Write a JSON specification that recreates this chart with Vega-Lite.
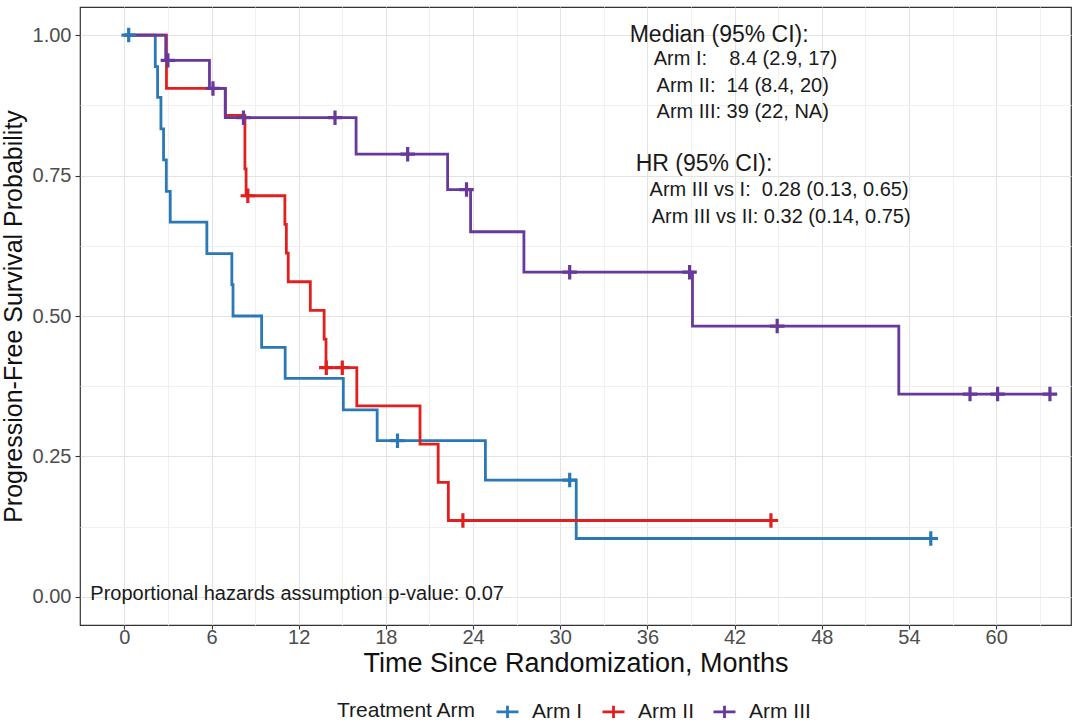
{
  "$schema": "https://vega.github.io/schema/vega-lite/v6.json",
  "width": 991,
  "height": 618,
  "autosize": {"type": "none"},
  "padding": {"left": 80, "top": 7, "right": 9, "bottom": 99},
  "background": "white",
  "config": {
    "font": "Liberation Sans",
    "view": {"stroke": "#333333", "strokeWidth": 1.2}
  },
  "datasets": {
    "curves": [
      {"arm": "Arm I", "time": 0, "surv": 1},
      {"arm": "Arm I", "time": 2.13, "surv": 0.944},
      {"arm": "Arm I", "time": 2.29, "surv": 0.889},
      {"arm": "Arm I", "time": 2.52, "surv": 0.833},
      {"arm": "Arm I", "time": 2.7, "surv": 0.778},
      {"arm": "Arm I", "time": 2.89, "surv": 0.722},
      {"arm": "Arm I", "time": 3.16, "surv": 0.667},
      {"arm": "Arm I", "time": 5.68, "surv": 0.611},
      {"arm": "Arm I", "time": 7.4, "surv": 0.556},
      {"arm": "Arm I", "time": 7.48, "surv": 0.5},
      {"arm": "Arm I", "time": 9.45, "surv": 0.444},
      {"arm": "Arm I", "time": 11.07, "surv": 0.389},
      {"arm": "Arm I", "time": 15.07, "surv": 0.333},
      {"arm": "Arm I", "time": 17.4, "surv": 0.278},
      {"arm": "Arm I", "time": 24.85, "surv": 0.208},
      {"arm": "Arm I", "time": 31.1, "surv": 0.104},
      {"arm": "Arm I", "time": 55.5, "surv": 0.104},
      {"arm": "Arm II", "time": 0, "surv": 1},
      {"arm": "Arm II", "time": 2.9, "surv": 0.905},
      {"arm": "Arm II", "time": 6.95, "surv": 0.857},
      {"arm": "Arm II", "time": 8.3, "surv": 0.762},
      {"arm": "Arm II", "time": 8.38, "surv": 0.714},
      {"arm": "Arm II", "time": 11.05, "surv": 0.663},
      {"arm": "Arm II", "time": 11.15, "surv": 0.612},
      {"arm": "Arm II", "time": 11.28, "surv": 0.561},
      {"arm": "Arm II", "time": 12.8, "surv": 0.51},
      {"arm": "Arm II", "time": 13.75, "surv": 0.459},
      {"arm": "Arm II", "time": 13.88, "surv": 0.408},
      {"arm": "Arm II", "time": 16.0, "surv": 0.34},
      {"arm": "Arm II", "time": 20.35, "surv": 0.272},
      {"arm": "Arm II", "time": 21.6, "surv": 0.204},
      {"arm": "Arm II", "time": 22.3, "surv": 0.136},
      {"arm": "Arm II", "time": 44.5, "surv": 0.136},
      {"arm": "Arm III", "time": 0, "surv": 1},
      {"arm": "Arm III", "time": 2.85, "surv": 0.955},
      {"arm": "Arm III", "time": 5.86, "surv": 0.905},
      {"arm": "Arm III", "time": 6.95, "surv": 0.853},
      {"arm": "Arm III", "time": 15.95, "surv": 0.788},
      {"arm": "Arm III", "time": 22.25, "surv": 0.725},
      {"arm": "Arm III", "time": 23.83, "surv": 0.65},
      {"arm": "Arm III", "time": 27.5, "surv": 0.578},
      {"arm": "Arm III", "time": 39.1, "surv": 0.482},
      {"arm": "Arm III", "time": 53.3, "surv": 0.361},
      {"arm": "Arm III", "time": 63.7, "surv": 0.361}
    ],
    "censors": [
      {"arm": "Arm I", "time": 0.3, "surv": 1},
      {"arm": "Arm I", "time": 18.8, "surv": 0.278},
      {"arm": "Arm I", "time": 30.65, "surv": 0.208},
      {"arm": "Arm I", "time": 55.5, "surv": 0.104},
      {"arm": "Arm II", "time": 8.5, "surv": 0.714},
      {"arm": "Arm II", "time": 13.9, "surv": 0.408},
      {"arm": "Arm II", "time": 15.0, "surv": 0.408},
      {"arm": "Arm II", "time": 23.3, "surv": 0.136},
      {"arm": "Arm II", "time": 44.5, "surv": 0.136},
      {"arm": "Arm III", "time": 3.0, "surv": 0.955},
      {"arm": "Arm III", "time": 6.1, "surv": 0.905},
      {"arm": "Arm III", "time": 8.2, "surv": 0.853},
      {"arm": "Arm III", "time": 14.5, "surv": 0.853},
      {"arm": "Arm III", "time": 19.5, "surv": 0.788},
      {"arm": "Arm III", "time": 23.55, "surv": 0.725},
      {"arm": "Arm III", "time": 30.65, "surv": 0.578},
      {"arm": "Arm III", "time": 38.9, "surv": 0.578},
      {"arm": "Arm III", "time": 44.93, "surv": 0.482},
      {"arm": "Arm III", "time": 58.2, "surv": 0.361},
      {"arm": "Arm III", "time": 60.1, "surv": 0.361},
      {"arm": "Arm III", "time": 63.7, "surv": 0.361}
    ]
  },
  "layer": [
    {
      "data": {"name": "curves"},
      "mark": {"type": "line", "interpolate": "step-after", "strokeWidth": 2.8},
      "encoding": {
        "x": {
          "field": "time", "type": "quantitative",
          "scale": {"domain": [-3.05, 65.15], "nice": false, "zero": false},
          "axis": {
            "title": "Time Since Randomization, Months",
            "values": [0, 3, 6, 9, 12, 15, 18, 21, 24, 27, 30, 33, 36, 39, 42, 45, 48, 51, 54, 57, 60, 63],
            "labelExpr": "datum.value % 6 === 0 ? datum.label : ''",
            "grid": true,
            "gridColor": {"condition": {"test": "datum.value % 6 === 0", "value": "#e3e3e3"}, "value": "#f0f0f0"},
            "gridWidth": 1.1,
            "tickOpacity": {"condition": {"test": "datum.value % 6 === 0", "value": 1}, "value": 0},
            "domain": false,
            "tickColor": "#333333",
            "tickSize": 4,
            "tickWidth": 1.1,
            "labelFont": "Liberation Sans",
            "labelFontSize": 20,
            "labelColor": "#4d4d4d",
            "labelPadding": -2,
            "labelFlush": false,
            "titleFont": "Liberation Sans",
            "titleFontSize": 27,
            "titleFontWeight": "normal",
            "titleColor": "#111111",
            "titlePadding": 3
          }
        },
        "y": {
          "field": "surv", "type": "quantitative",
          "scale": {"domain": [-0.05, 1.05], "nice": false, "zero": false},
          "axis": {
            "title": "Progression-Free Survival Probability",
            "values": [0, 0.125, 0.25, 0.375, 0.5, 0.625, 0.75, 0.875, 1],
            "labelExpr": "round(datum.value * 8) % 2 === 0 ? format(datum.value, '.2f') : ''",
            "grid": true,
            "gridColor": {"condition": {"test": "round(datum.value * 8) % 2 === 0", "value": "#e3e3e3"}, "value": "#f0f0f0"},
            "gridWidth": 1.1,
            "tickOpacity": {"condition": {"test": "round(datum.value * 8) % 2 === 0", "value": 1}, "value": 0},
            "domain": false,
            "tickColor": "#333333",
            "tickSize": 5,
            "tickWidth": 1.1,
            "labelFont": "Liberation Sans",
            "labelFontSize": 20,
            "labelColor": "#4d4d4d",
            "labelPadding": 4,
            "titleFont": "Liberation Sans",
            "titleFontSize": 25,
            "titleFontWeight": "normal",
            "titleColor": "#111111",
            "titlePadding": 6
          }
        },
        "color": {
          "field": "arm", "type": "nominal",
          "scale": {"domain": ["Arm I", "Arm II", "Arm III"], "range": ["#2a78b5", "#e0201f", "#66399a"]},
          "legend": {
            "orient": "none", "legendX": 257, "legendY": 692,
            "direction": "horizontal",
            "title": "Treatment Arm", "titleOrient": "left",
            "titleFont": "Liberation Sans", "titleFontSize": 21, "titleFontWeight": "normal", "titleColor": "#1a1a1a",
            "titlePadding": 18,
            "labelFont": "Liberation Sans", "labelFontSize": 21, "labelColor": "#1a1a1a",
            "symbolType": "M-1,0L1,0M0,-0.55L0,0.55",
            "symbolSize": 484, "symbolStrokeWidth": 2.8,
            "labelOffset": 12, "columnPadding": 13
          }
        }
      }
    },
    {
      "data": {"name": "censors"},
      "mark": {"type": "point", "shape": "M-1,0L1,0M0,-1L0,1", "filled": false, "strokeWidth": 3.2, "size": 210, "opacity": 1},
      "encoding": {
        "x": {"field": "time", "type": "quantitative"},
        "y": {"field": "surv", "type": "quantitative"},
        "color": {
          "field": "arm", "type": "nominal",
          "scale": {"domain": ["Arm I", "Arm II", "Arm III"], "range": ["#2a78b5", "#e0201f", "#66399a"]},
          "legend": {
            "orient": "none", "legendX": 257, "legendY": 692,
            "direction": "horizontal",
            "title": "Treatment Arm", "titleOrient": "left",
            "titleFont": "Liberation Sans", "titleFontSize": 21, "titleFontWeight": "normal", "titleColor": "#1a1a1a",
            "titlePadding": 18,
            "labelFont": "Liberation Sans", "labelFontSize": 21, "labelColor": "#1a1a1a",
            "symbolType": "M-1,0L1,0M0,-0.55L0,0.55",
            "symbolSize": 484, "symbolStrokeWidth": 2.8,
            "labelOffset": 12, "columnPadding": 13
          }
        }
      }
    },
    {
      "data": {"values": [{"label": "Median (95% CI):"}]},
      "mark": {"type": "text", "align": "left", "baseline": "middle", "font": "Liberation Sans", "fontSize": 23, "color": "#1a1a1a"},
      "encoding": {"text": {"field": "label"}, "x": {"datum": 34.78}, "y": {"datum": 1.0}}
    },
    {
      "data": {"values": [{"label": "Arm I:\u00a0\u00a0\u00a0\u00a08.4 (2.9, 17)"}]},
      "mark": {"type": "text", "align": "left", "baseline": "middle", "font": "Liberation Sans", "fontSize": 20, "color": "#1a1a1a"},
      "encoding": {"text": {"field": "label"}, "x": {"datum": 36.43}, "y": {"datum": 0.957}}
    },
    {
      "data": {"values": [{"label": "Arm II:\u00a0 14 (8.4, 20)"}]},
      "mark": {"type": "text", "align": "left", "baseline": "middle", "font": "Liberation Sans", "fontSize": 20, "color": "#1a1a1a"},
      "encoding": {"text": {"field": "label"}, "x": {"datum": 36.63}, "y": {"datum": 0.909}}
    },
    {
      "data": {"values": [{"label": "Arm III: 39 (22, NA)"}]},
      "mark": {"type": "text", "align": "left", "baseline": "middle", "font": "Liberation Sans", "fontSize": 20, "color": "#1a1a1a"},
      "encoding": {"text": {"field": "label"}, "x": {"datum": 36.63}, "y": {"datum": 0.863}}
    },
    {
      "data": {"values": [{"label": "HR (95% CI):"}]},
      "mark": {"type": "text", "align": "left", "baseline": "middle", "font": "Liberation Sans", "fontSize": 23, "color": "#1a1a1a"},
      "encoding": {"text": {"field": "label"}, "x": {"datum": 35.19}, "y": {"datum": 0.77}}
    },
    {
      "data": {"values": [{"label": "Arm III vs I:\u00a0 0.28 (0.13, 0.65)"}]},
      "mark": {"type": "text", "align": "left", "baseline": "middle", "font": "Liberation Sans", "fontSize": 20, "color": "#1a1a1a"},
      "encoding": {"text": {"field": "label"}, "x": {"datum": 36.15}, "y": {"datum": 0.724}}
    },
    {
      "data": {"values": [{"label": "Arm III vs II: 0.32 (0.14, 0.75)"}]},
      "mark": {"type": "text", "align": "left", "baseline": "middle", "font": "Liberation Sans", "fontSize": 20, "color": "#1a1a1a"},
      "encoding": {"text": {"field": "label"}, "x": {"datum": 36.29}, "y": {"datum": 0.676}}
    },
    {
      "data": {"values": [{"label": "Proportional hazards assumption p-value: 0.07"}]},
      "mark": {"type": "text", "align": "left", "baseline": "middle", "font": "Liberation Sans", "fontSize": 20, "color": "#1a1a1a"},
      "encoding": {"text": {"field": "label"}, "x": {"datum": -2.34}, "y": {"datum": 0.006}}
    }
  ]
}
